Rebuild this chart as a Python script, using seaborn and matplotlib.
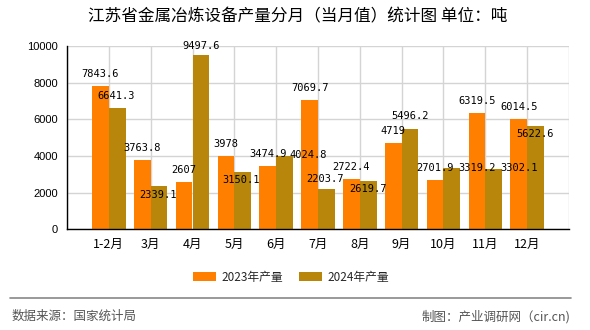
import matplotlib
matplotlib.use("Agg")
import matplotlib.pyplot as plt
from matplotlib.lines import Line2D
import pandas as pd
import seaborn as sns

months = ["1-2月", "3月", "4月", "5月", "6月", "7月", "8月", "9月", "10月", "11月", "12月"]
prod_2023 = [7843.6, 3763.8, 2607, 3978, 3474.9, 7069.7, 2722.4, 4719, 2701.9, 6319.5, 6014.5]
prod_2024 = [6641.3, 2339.1, 9497.6, 3150.1, 4024.8, 2203.7, 2619.7, 5496.2, 3319.2, 3302.1, 5622.6]
series_names = ["2023年产量", "2024年产量"]
series_colors = ["#FF8000", "#B8860B"]
yticks = [0, 2000, 4000, 6000, 8000, 10000]
title = "江苏省金属冶炼设备产量分月（当月值）统计图 单位：吨"
source = "数据来源：国家统计局"
credit = "制图：产业调研网（cir.cn)"

# label placement (pixel offsets of label centre from bar-top centre), as in the reference
label_dx_2023 = [0] * 11
label_dy_2023 = [12] * 11
label_dx_2024 = [-1, -1, 0, -2, 24, -1.5, 0, 0, 25.5, 25, 0]
label_dy_2024 = [12, -8.6, 9.3, -8.4, 0.5, 10, -7.7, 12.5, 0.8, 1, -8]

df = pd.DataFrame({
    "月份": months * 2,
    "产量": prod_2023 + prod_2024,
    "系列": [series_names[0]] * len(months) + [series_names[1]] * len(months),
})

sns.set_style("white")
plt.rcParams['font.family'] = ['Noto Sans CJK SC', 'DejaVu Sans']

W, H = 590, 330
fig = plt.figure(figsize=(W / 100, H / 100), dpi=100)
ax = fig.add_axes([67 / W, 1 - 229.3 / H, (569 - 67) / W, (229.3 - 46) / H])

sns.barplot(data=df, x="月份", y="产量", hue="系列", hue_order=series_names,
            palette=series_colors, width=0.8, saturation=1, errorbar=None,
            linewidth=0, edgecolor="none", ax=ax, legend=True)

handles, labels = ax.get_legend_handles_labels()
if ax.get_legend() is not None:
    ax.get_legend().remove()

# value labels
for cont, vals, dxs, dys in zip(ax.containers, [prod_2023, prod_2024],
                                [label_dx_2023, label_dx_2024],
                                [label_dy_2023, label_dy_2024]):
    for patch, v, dx, dy in zip(cont.patches, vals, dxs, dys):
        xc = patch.get_x() + patch.get_width() / 2
        ax.annotate(f"{v:g}", xy=(xc, patch.get_height()), xytext=(dx, dy),
                    textcoords="offset pixels", ha="center", va="center",
                    fontsize=7.5, family="DejaVu Sans Mono", color="black",
                    annotation_clip=False)

ax.set_xlim(-1, len(months))
ax.set_ylim(0, 10000)
ax.set_xticks(list(range(-1, len(months) + 1)))
ax.set_xticklabels([""] + months + [""], fontsize=9)
ax.set_yticks(yticks)
ax.set_yticklabels([str(t) for t in yticks], fontsize=8, family="Liberation Sans")
ax.set_xlabel("")
ax.set_ylabel("")

ax.grid(True, color="#d4d4d4", lw=1)
ax.set_axisbelow(True)
for s in ["top", "right"]:
    ax.spines[s].set_visible(False)
for s in ["left", "bottom"]:
    ax.spines[s].set_color("black")
    ax.spines[s].set_linewidth(1)
ax.tick_params(axis="both", direction="out", length=4.5, width=1, color="black",
               labelcolor="black", pad=2)

fig.text(0.505, 1 - 17 / H, title, ha="center", va="center", fontsize=12,
         fontweight="medium", color="black")

fig.legend(handles, labels, loc="center", bbox_to_anchor=(291 / W, 1 - 277 / H), ncol=2,
           frameon=False, fontsize=8.5, handlelength=1.9, handletextpad=0.45,
           columnspacing=1.4)

fig.add_artist(Line2D([10 / W, 571 / W], [1 - 298.3 / H] * 2, color="#888888", lw=1.2))
fig.text(12 / W, 1 - 316.7 / H, source, ha="left", va="center", fontsize=9, color="#555555")
fig.text(570 / W, 1 - 316.7 / H, credit, ha="right", va="center", fontsize=9, color="#555555")

fig.savefig("out.png", dpi=100)
